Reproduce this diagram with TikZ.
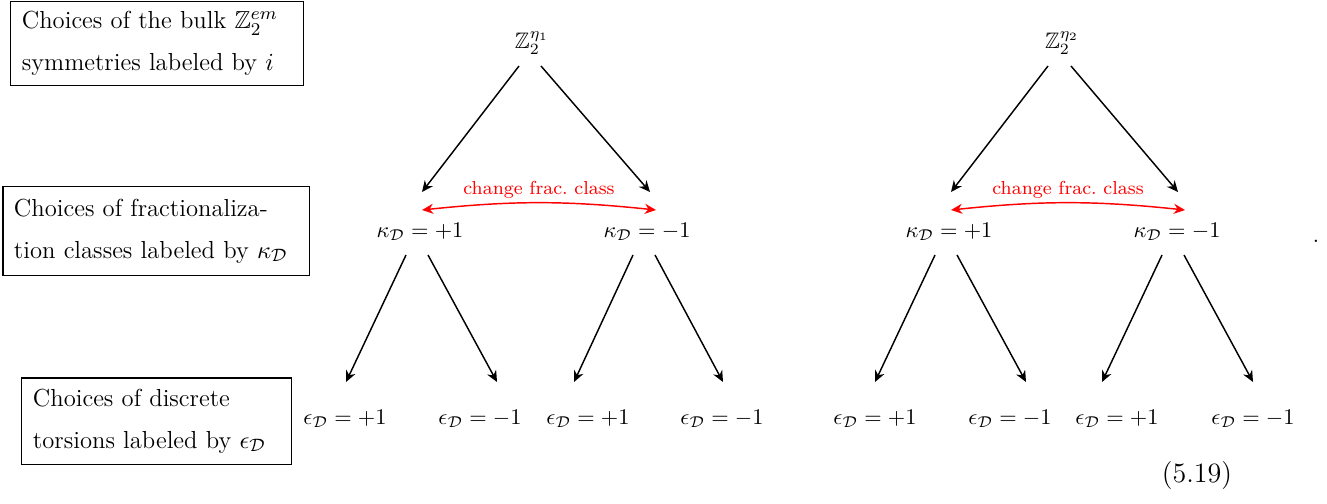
\documentclass[tikz,border=0pt]{standalone}
\usepackage{amssymb}
\usetikzlibrary{arrows.meta,calc}
\begin{document}
\begin{tikzpicture}[x=0.4464pt,y=-0.4464pt,
  lbl/.style={inner sep=0pt},
  boxnode/.style={draw, line width=0.45pt, inner xsep=4.9pt, inner ysep=0pt, align=left, font=\fontsize{11}{13.6}\selectfont},
  arr/.style={-{Stealth[length=5pt,width=4.5pt]}, line width=0.65pt},
  redarr/.style={{Stealth[length=5pt,width=4.5pt]}-{Stealth[length=5pt,width=4.5pt]}, line width=0.65pt, red},
  redlbl/.style={red, font=\fontsize{8.4}{10}\selectfont, inner sep=0pt}]
\useasboundingbox (0,0) rectangle (1327,503);
% boxes
\node[boxnode, minimum width=130.4pt, minimum height=37.9pt, text width=120.6pt] (b1) at (157,43.5)
  {Choices of the bulk $\mathbb{Z}_2^{em}$\\[5pt] symmetries labeled by $i$};
\node[boxnode, minimum width=136.6pt, minimum height=39.3pt, text width=126.8pt] (b2) at (156,231)
  {Choices of fractionaliza-\\[5pt] tion classes labeled by $\kappa_{\mathcal{D}}$};
\node[boxnode, minimum width=120.1pt, minimum height=38.4pt, text width=110.3pt] (b3) at (156.5,421)
  {Choices of discrete\\[5pt] torsions labeled by $\epsilon_{\mathcal{D}}$};
% tree 1
\node[lbl] (z1) at (532,43) {$\mathbb{Z}_2^{\eta_1}$};
\node[lbl] (k1) at (420,232) {$\kappa_{\mathcal{D}}=+1$};
\node[lbl] (k2) at (647,232) {$\kappa_{\mathcal{D}}=-1$};
\node[lbl] (e1) at (345,419) {$\epsilon_{\mathcal{D}}=+1$};
\node[lbl] (e2) at (480,419) {$\epsilon_{\mathcal{D}}=-1$};
\node[lbl] (e3) at (588,419) {$\epsilon_{\mathcal{D}}=+1$};
\node[lbl] (e4) at (722,419) {$\epsilon_{\mathcal{D}}=-1$};
% tree 2
\node[lbl] (z2) at (1062,43) {$\mathbb{Z}_2^{\eta_2}$};
\node[lbl] (k3) at (949,232) {$\kappa_{\mathcal{D}}=+1$};
\node[lbl] (k4) at (1177,232) {$\kappa_{\mathcal{D}}=-1$};
\node[lbl] (e5) at (875,419) {$\epsilon_{\mathcal{D}}=+1$};
\node[lbl] (e6) at (1010,419) {$\epsilon_{\mathcal{D}}=-1$};
\node[lbl] (e7) at (1117,419) {$\epsilon_{\mathcal{D}}=+1$};
\node[lbl] (e8) at (1253,419) {$\epsilon_{\mathcal{D}}=-1$};
\node[lbl] (dot) at (1316,241) {.};
\node[lbl, font=\fontsize{12.5}{15}\selectfont] (eq) at (1197,476) {(5.19)};
% arrows tree 1
\draw[arr] ($(z1)+(-13,23)$) -- ($(k1)+(2,-40)$);
\draw[arr] ($(z1)+(9,23)$) -- ($(k2)+(3,-40)$);
\draw[arr] ($(k1)+(-14,23)$) -- ($(e1)+(1,-37)$);
\draw[arr] ($(k1)+(8,23)$) -- ($(e2)+(17,-37)$);
\draw[arr] ($(k2)+(-14,23)$) -- ($(e3)+(-14,-37)$);
\draw[arr] ($(k2)+(8,23)$) -- ($(e4)+(1,-37)$);
% arrows tree 2
\draw[arr] ($(z2)+(-14,23)$) -- ($(k3)+(2,-40)$);
\draw[arr] ($(z2)+(9,23)$) -- ($(k4)+(1,-40)$);
\draw[arr] ($(k3)+(-14,23)$) -- ($(e5)+(0,-37)$);
\draw[arr] ($(k3)+(8,23)$) -- ($(e6)+(16,-37)$);
\draw[arr] ($(k4)+(-15,23)$) -- ($(e7)+(-15,-37)$);
\draw[arr] ($(k4)+(7,23)$) -- ($(e8)+(0,-37)$);
% red arrows
\draw[redarr] ($(k1)+(2,-22)$) to[bend left=6] node[redlbl, above=1.5pt] {change frac.\ class} ($(k2)+(9,-22)$);
\draw[redarr] ($(k3)+(2,-22)$) to[bend left=6] node[redlbl, above=1.5pt] {change frac.\ class} ($(k4)+(8,-22)$);
\end{tikzpicture}
\end{document}
